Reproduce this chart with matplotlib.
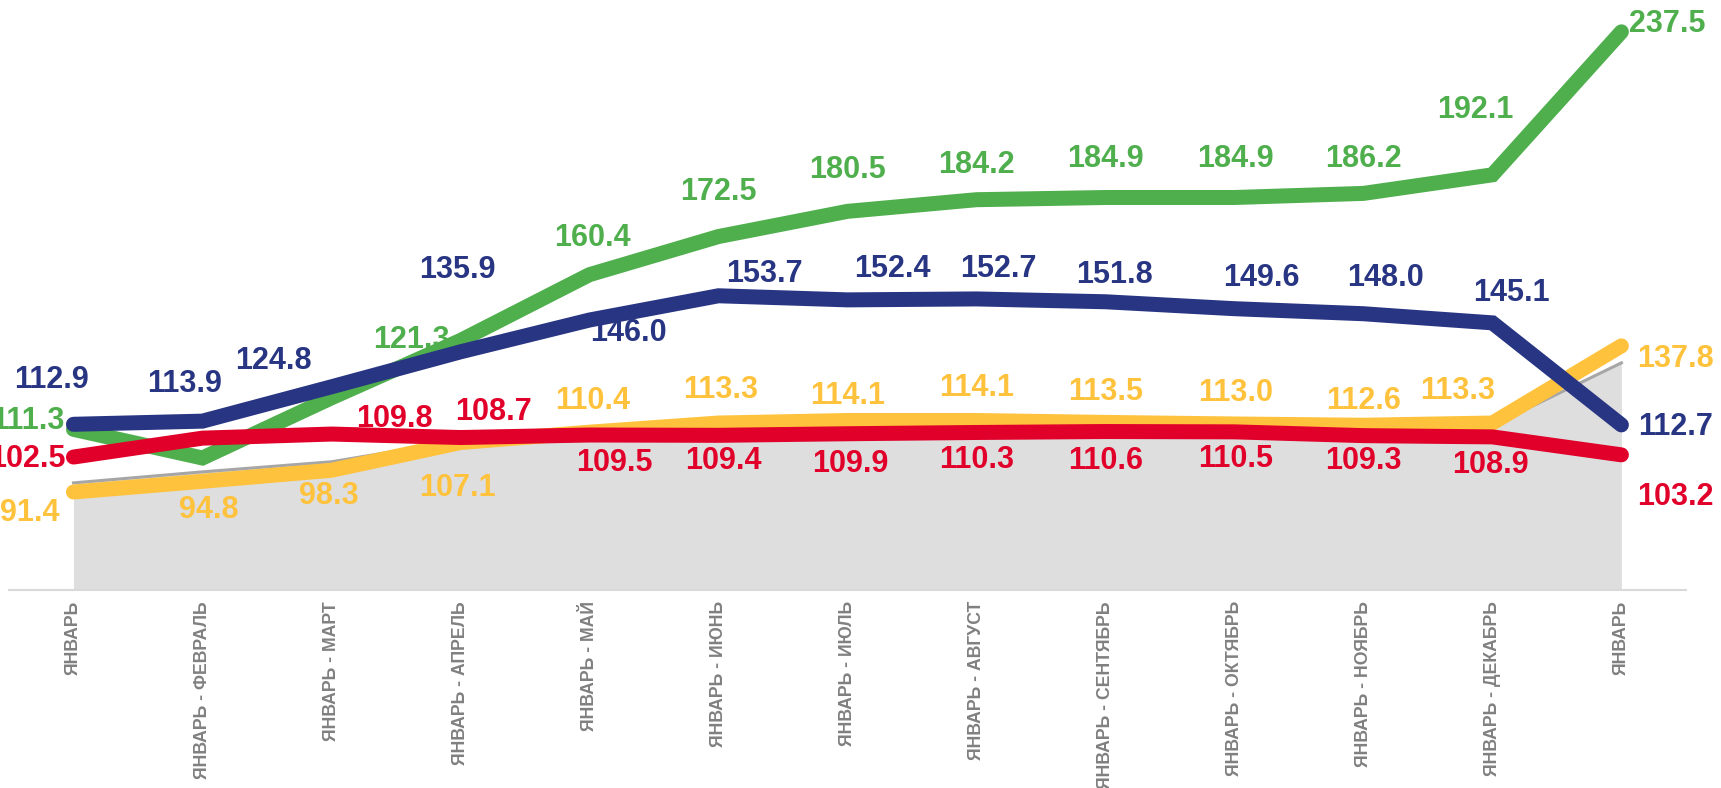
import numpy as np
import matplotlib.pyplot as plt

plt.rcParams['font.family'] = ['Liberation Sans', 'DejaVu Sans']

months = ['ЯНВАРЬ', 'ЯНВАРЬ - ФЕВРАЛЬ', 'ЯНВАРЬ - МАРТ', 'ЯНВАРЬ - АПРЕЛЬ',
          'ЯНВАРЬ - МАЙ', 'ЯНВАРЬ - ИЮНЬ', 'ЯНВАРЬ - ИЮЛЬ', 'ЯНВАРЬ - АВГУСТ',
          'ЯНВАРЬ - СЕНТЯБРЬ', 'ЯНВАРЬ - ОКТЯБРЬ', 'ЯНВАРЬ - НОЯБРЬ',
          'ЯНВАРЬ - ДЕКАБРЬ', 'ЯНВАРЬ']

blue = [112.9, 113.9, 124.8, 135.9, 146.0, 153.7, 152.4, 152.7, 151.8, 149.6, 148.0, 145.1, 112.7]
green = [111.3, 102.2, 121.3, 139.5, 160.4, 172.5, 180.5, 184.2, 184.9, 184.9, 186.2, 192.1, 237.5]
yellow = [91.4, 94.8, 98.3, 107.1, 110.4, 113.3, 114.1, 114.1, 113.5, 113.0, 112.6, 113.3, 137.8]
red = [102.5, 108.5, 109.8, 108.7, 109.5, 109.4, 109.9, 110.3, 110.6, 110.5, 109.3, 108.9, 103.2]
grey = [94.3, 97.8, 101.0, 107.8, 110.5, 113.0, 113.8, 113.8, 113.2, 112.7, 112.3, 112.5, 132.4]

# label offsets in pixels (dx, dy down), None = no label
blue_off = [(-22, -44), (-18, -37), (-58, -26), (-3, -82), (39, 13), (46, -22), (45, -31),
            (22, -30), (9, -27), (27, -31), (22, -36), (19, -30), (54, 2)]
green_off = [(-46, -8), None, (80, -58), None, (3, -37), (0, -45), (0, -41),
             (0, -35), (0, -38), (1, -38), (0, -34), (-17, -65), (46, -8)]
yellow_off = [(-44, 21), (6, 29), (-3, 26), (-3, 45), (3, -31), (2, -33), (0, -25),
              (0, -33), (0, -30), (1, -31), (0, -24), (-35, -32), (54, 13)]
red_off = [(-46, 2), None, (63, -15), (33, -26), (25, 28), (5, 26), (3, 30),
           (0, 28), (0, 29), (1, 27), (0, 25), (-2, 28), (54, 42)]

c_blue = '#283583'
c_green = '#4faf4d'
c_yellow = '#ffc23d'
c_red = '#e1002a'

x = np.arange(len(months))
fig = plt.figure(figsize=(17.21, 7.88), dpi=100)
ax = fig.add_axes([0.0052, 0.2513, 0.9744, 0.7487])

ymin = 60.3
ax.fill_between(x, ymin, grey, color='#dedede', lw=0, zorder=1)
ax.plot(x, grey, color='#a6a6a6', lw=2.2, zorder=2)

lw = 10.8
for vals, col, z in [(yellow, c_yellow, 3), (green, c_green, 4), (red, c_red, 5), (blue, c_blue, 6)]:
    ax.plot(x, vals, color=col, lw=lw, solid_capstyle='round', solid_joinstyle='miter', zorder=z)

for vals, offs, col in [(green, green_off, c_green), (yellow, yellow_off, c_yellow),
                        (red, red_off, c_red), (blue, blue_off, c_blue)]:
    for i, v in enumerate(vals):
        if offs[i] is None:
            continue
        dx, dy = offs[i]
        ax.annotate(f'{v:.1f}', (x[i], v), xytext=(dx, -dy), textcoords='offset pixels',
                    ha='center', va='center', fontsize=22, fontweight='bold',
                    color=col, zorder=10)

ax.set_xlim(-0.5, 12.5)
ax.set_ylim(ymin, 247.6)
ax.set_xticks(x)
ax.set_xticklabels(months, rotation=90, fontsize=12.7, fontweight='bold', color='#808080')
ax.tick_params(axis='x', length=0, pad=8)
ax.set_yticks([])
for s in ['top', 'right', 'left']:
    ax.spines[s].set_visible(False)
ax.spines['bottom'].set_color('#d9d9d9')
ax.spines['bottom'].set_linewidth(1.5)

fig.savefig('out.png', dpi=100)
